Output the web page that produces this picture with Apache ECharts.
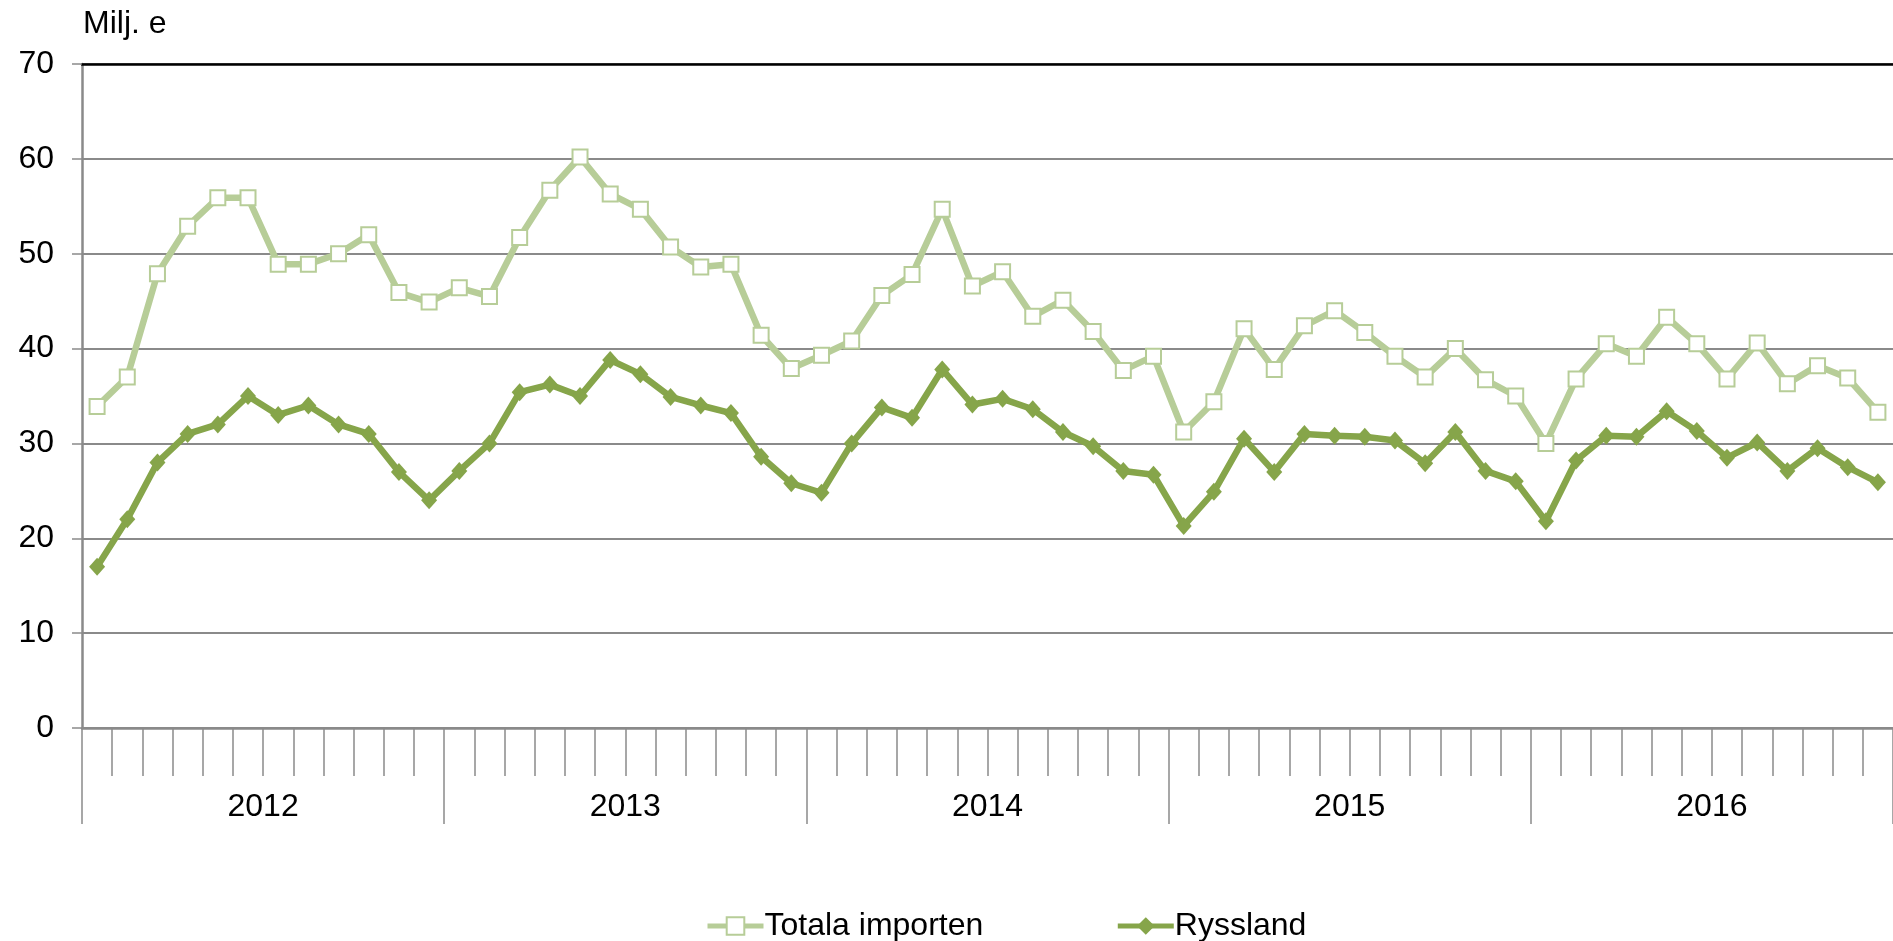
<!DOCTYPE html>
<html>
<head>
<meta charset="utf-8">
<script src="https://cdn.jsdelivr.net/npm/echarts@6/dist/echarts.min.js"></script>
<style>
  html, body { margin: 0; padding: 0; background: #fff; }
  #chart { width: 1893px; height: 941px; }
</style>
</head>
<body>
<div id="chart"></div>
<script>
const years = ["2012", "2013", "2014", "2015", "2016"];

const months = years.flatMap(
  (year) => Array.from({ length: 12 }, (_, i) => `${year}-${String(i + 1).padStart(2, "0")}`),
);

const totalImport = [
  33.9, 37.0, 47.9, 52.9, 55.9, 55.9, 48.9, 48.9, 50.0, 52.0, 45.9, 44.9,
  46.4, 45.5, 51.7, 56.7, 60.2, 56.3, 54.7, 50.7, 48.6, 48.9, 41.4, 37.9,
  39.3, 40.8, 45.6, 47.8, 54.7, 46.6, 48.1, 43.4, 45.1, 41.8, 37.7, 39.2,
  31.2, 34.4, 42.1, 37.8, 42.4, 44.0, 41.7, 39.2, 37.0, 40.0, 36.7, 35.0,
  30.0, 36.8, 40.5, 39.2, 43.3, 40.5, 36.8, 40.6, 36.3, 38.2, 36.9, 33.3,
];

const russia = [
  17.0, 22.0, 28.0, 31.0, 32.0, 35.0, 33.0, 34.0, 32.0, 31.0, 27.0, 24.0,
  27.1, 30.0, 35.4, 36.2, 35.0, 38.8, 37.3, 34.9, 34.0, 33.2, 28.6, 25.8,
  24.8, 30.0, 33.8, 32.7, 37.8, 34.1, 34.7, 33.6, 31.2, 29.7, 27.1, 26.7,
  21.3, 24.9, 30.5, 27.0, 31.0, 30.8, 30.7, 30.3, 27.9, 31.2, 27.1, 26.0,
  21.8, 28.2, 30.8, 30.7, 33.4, 31.3, 28.5, 30.1, 27.1, 29.5, 27.5, 25.9,
];

const LIGHT = "#b7cd98";
const DARK = "#86a54a";
const GREY = "#8a8a8a";
const FONT = "'Liberation Sans', Arial, sans-serif";

const chart = echarts.init(document.getElementById("chart"));

chart.setOption({
  animation: false,
  textStyle: {
    fontFamily: FONT,
  },
  title: {
    text: "Milj. e",
    left: 83,
    top: 8,
    padding: 0,
    textStyle: {
      fontFamily: FONT,
      fontSize: 32,
      fontWeight: "normal",
      color: "#000",
    },
  },
  legend: {
    left: 700,
    top: 905,
    itemWidth: 56,
    itemHeight: 22,
    itemGap: 132,
    lineStyle: {
      width: 5,
    },
    textStyle: {
      fontFamily: FONT,
      fontSize: 32,
      color: "#000",
      padding: [0, 0, 0, -4],
    },
    data: ["Totala importen", "Ryssland"],
  },
  grid: {
    left: 82,
    right: 0,
    top: 64,
    bottom: 213,
    containLabel: false,
  },
  xAxis: [
    {
      type: "category",
      position: "bottom",
      data: months,
      boundaryGap: true,
      axisLine: {
        lineStyle: { color: GREY, width: 2.5 },
      },
      axisTick: {
        show: true,
        interval: 0,
        length: 48,
        lineStyle: { color: GREY, width: 1.5 },
      },
      axisLabel: { show: false },
      splitLine: { show: false },
    },
    {
      type: "category",
      position: "bottom",
      data: years,
      boundaryGap: true,
      axisLine: { show: false },
      axisTick: {
        show: true,
        interval: 0,
        length: 96,
        lineStyle: { color: GREY, width: 1.5 },
      },
      axisLabel: {
        interval: 0,
        margin: 63,
        fontFamily: FONT,
        fontSize: 32,
        color: "#000",
      },
      splitLine: { show: false },
    },
    {
      type: "category",
      position: "top",
      data: years,
      axisLine: {
        lineStyle: { color: "#000", width: 2.5 },
      },
      axisTick: { show: false },
      axisLabel: { show: false },
      splitLine: { show: false },
    },
  ],
  yAxis: {
    type: "value",
    min: 0,
    max: 70,
    interval: 10,
    axisLine: {
      show: true,
      lineStyle: { color: GREY, width: 2.5 },
    },
    axisTick: {
      show: true,
      length: 10,
      lineStyle: { color: GREY, width: 1.5 },
    },
    axisLabel: {
      margin: 28,
      fontFamily: FONT,
      fontSize: 32,
      color: "#000",
    },
    splitLine: {
      lineStyle: { color: GREY, width: 2 },
    },
  },
  series: [
    {
      name: "Totala importen",
      type: "line",
      xAxisIndex: 0,
      data: totalImport,
      symbol: "rect",
      symbolSize: 15,
      itemStyle: {
        color: "#fff",
        borderColor: LIGHT,
        borderWidth: 2,
      },
      lineStyle: {
        color: LIGHT,
        width: 6.5,
      },
      z: 2,
    },
    {
      name: "Ryssland",
      type: "line",
      xAxisIndex: 0,
      data: russia,
      symbol: "diamond",
      symbolSize: [16, 18],
      itemStyle: {
        color: DARK,
      },
      lineStyle: {
        color: DARK,
        width: 6.5,
      },
      z: 3,
    },
  ],
});
</script>
</body>
</html>
